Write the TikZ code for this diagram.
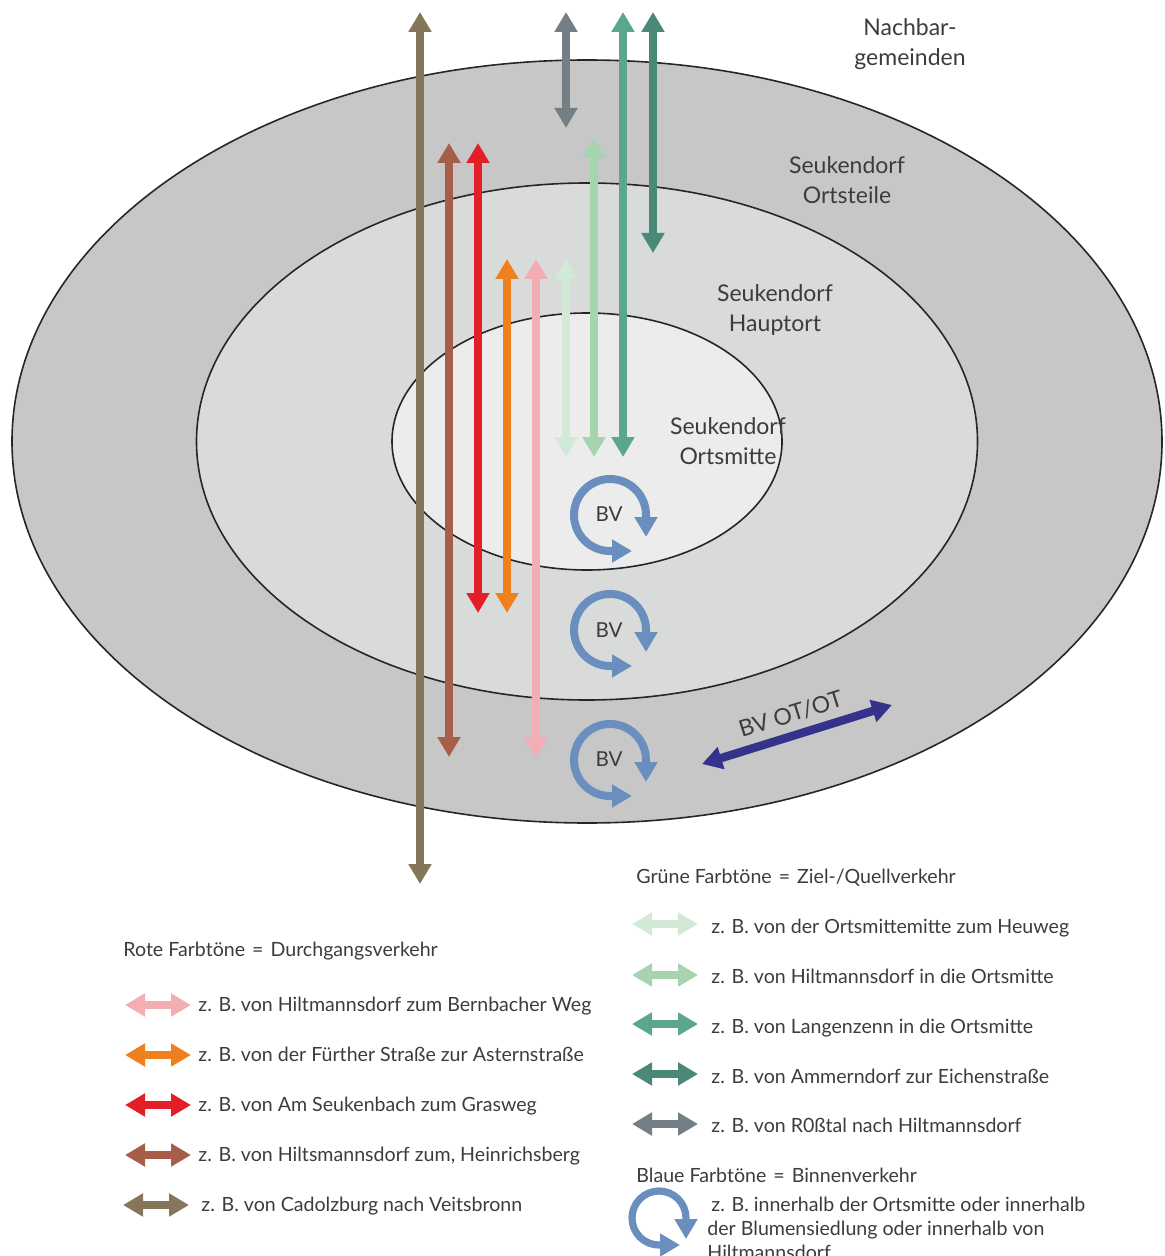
\documentclass[tikz,border=0pt]{standalone}
\usepackage{fontspec}
\setmainfont{Lato}
\usetikzlibrary{arrows.meta}
\definecolor{ringA}{HTML}{C6C7C6}
\definecolor{ringB}{HTML}{D9DADA}
\definecolor{ringC}{HTML}{EBECEB}
\definecolor{txt}{HTML}{3C3C3B}
\definecolor{cOlive}{HTML}{857559}
\definecolor{cBrown}{HTML}{A65E48}
\definecolor{cRed}{HTML}{E31E26}
\definecolor{cOrange}{HTML}{EE801E}
\definecolor{cPink}{HTML}{F3AEB3}
\definecolor{cGreenA}{HTML}{D3E9D8}
\definecolor{cGreenB}{HTML}{A5D4AF}
\definecolor{cGreenC}{HTML}{5BA690}
\definecolor{cGreenD}{HTML}{4A8878}
\definecolor{cGrey}{HTML}{737F85}
\definecolor{cBlue}{HTML}{6A8FBE}
\definecolor{cNavy}{HTML}{35328B}
\newcommand{\wideeq}{\ \hspace{1pt}=\hspace{1pt}\ }
\tikzset{
  vtip/.tip={Triangle[width=11pt,length=10pt]},
  dblarr/.style={line width=4.2pt,vtip-vtip},
  legarr/.style={line width=4pt,vtip-vtip},
  loopline/.style={line width=4pt,draw=cBlue,vtip-vtip},
  ring/.style={draw=black!85,line width=0.8pt},
  lbl/.style={font=\fontsize{11.5}{14}\selectfont,text=txt,inner sep=0pt,anchor=base},
  leg/.style={font=\fontsize{9.8}{12}\selectfont,text=txt,inner sep=0pt,anchor=base west},
  bvlbl/.style={font=\fontsize{10.3}{12}\selectfont,text=txt,inner sep=0pt},
  bvloop/.pic={\draw[loopline] (22,36) -- (0,36) arc[start angle=90,end angle=360,radius=36] -- ++(0,22);},
  bvsmall/.pic={\draw[loopline,line width=3.6pt] (21,27) -- (0,27) arc[start angle=90,end angle=360,radius=27] -- ++(0,21);}
}
\begin{document}
\begin{tikzpicture}[x=0.5pt,y=-0.5pt]
\useasboundingbox (0,0) rectangle (1164,1256);
% rings
\draw[ring,fill=ringA] (587,441.5) ellipse [x radius=575, y radius=381.5];
\draw[ring,fill=ringB] (587,441.5) ellipse [x radius=390.5, y radius=258.5];
\draw[ring,fill=ringC] (587,441.5) ellipse [x radius=195, y radius=128.5];
% ring labels
\node[lbl] (nb1) at (910,36) {Nachbar-};
\node[lbl] (nb2) at (910,66) {gemeinden};
\node[lbl] (ot1) at (847,174) {Seukendorf};
\node[lbl] (ot2) at (847,204) {Ortsteile};
\node[lbl] (ht1) at (775,302) {Seukendorf};
\node[lbl] (ht2) at (775,332) {Hauptort};
\node[lbl] (om1) at (728,434) {Seukendorf};
\node[lbl] (om2) at (728,464) {Ortsmitte};
% vertical arrows
\coordinate (olT) at (420,12);  \coordinate (olB) at (420,884);
\coordinate (brT) at (449,143); \coordinate (brB) at (449,757);
\coordinate (reT) at (478,143); \coordinate (reB) at (478,613);
\coordinate (orT) at (507,259); \coordinate (orB) at (507,613);
\coordinate (piT) at (536,259); \coordinate (piB) at (536,758);
\coordinate (gaT) at (566,259); \coordinate (gaB) at (566,457);
\coordinate (gbT) at (594,138); \coordinate (gbB) at (594,457);
\coordinate (gcT) at (623,12);  \coordinate (gcB) at (623,457);
\coordinate (gdT) at (653,12);  \coordinate (gdB) at (653,253);
\coordinate (grT) at (566,12);  \coordinate (grB) at (566,128);
\draw[dblarr,cOlive] (olT) -- (olB);
\draw[dblarr,cBrown] (brT) -- (brB);
\draw[dblarr,cRed] (reT) -- (reB);
\draw[dblarr,cOrange] (orT) -- (orB);
\draw[dblarr,cPink] (piT) -- (piB);
\draw[dblarr,cGreenA] (gaT) -- (gaB);
\draw[dblarr,cGreenB] (gbT) -- (gbB);
\draw[dblarr,cGreenC] (gcT) -- (gcB);
\draw[dblarr,cGreenD] (gdT) -- (gdB);
\draw[dblarr,cGrey] (grT) -- (grB);
% BV loops
\pic at (610,515) {bvloop};
\pic at (610,630) {bvloop};
\pic at (610,760) {bvloop};
\node[bvlbl] (bv1) at (609,514) {BV};
\node[bvlbl] (bv2) at (609,630) {BV};
\node[bvlbl] (bv3) at (609,759) {BV};
% BV OT/OT
\coordinate (otA) at (702,764); \coordinate (otB) at (892,705);
\draw[dblarr,cNavy] (otA) -- (otB) node[midway,sloped,above=4pt,font=\fontsize{11.5}{14}\selectfont,text=txt,inner sep=0pt] (otl) {BV OT/OT};
% legend: red
\node[leg] (rh) at (123,956) {Rote Farbtöne\wideeq Durchgangsverkehr};
\coordinate (r1a) at (125,1005); \coordinate (r1b) at (191,1005);
\coordinate (r2a) at (125,1055); \coordinate (r2b) at (191,1055);
\coordinate (r3a) at (125,1105); \coordinate (r3b) at (191,1105);
\coordinate (r4a) at (125,1155); \coordinate (r4b) at (191,1155);
\coordinate (r5a) at (123,1205); \coordinate (r5b) at (189,1205);
\draw[legarr,cPink] (r1a) -- (r1b);
\draw[legarr,cOrange] (r2a) -- (r2b);
\draw[legarr,cRed] (r3a) -- (r3b);
\draw[legarr,cBrown] (r4a) -- (r4b);
\draw[legarr,cOlive] (r5a) -- (r5b);
\node[leg] (rt1) at (198,1011) {z. B. von Hiltmannsdorf zum Bernbacher Weg};
\node[leg] (rt2) at (198,1061) {z. B. von der Fürther Straße zur Asternstraße};
\node[leg] (rt3) at (198,1111) {z. B. von Am Seukenbach zum Grasweg};
\node[leg] (rt4) at (198,1161) {z. B. von Hiltsmannsdorf zum, Heinrichsberg};
\node[leg] (rt5) at (201,1211) {z. B. von Cadolzburg nach Veitsbronn};
% legend: green
\node[leg] (gh) at (636,883) {Grüne Farbtöne\wideeq Ziel-/Quellverkehr};
\coordinate (g1a) at (632,924); \coordinate (g1b) at (698,924);
\coordinate (g2a) at (632,975); \coordinate (g2b) at (698,975);
\coordinate (g3a) at (632,1024); \coordinate (g3b) at (698,1024);
\coordinate (g4a) at (632,1074); \coordinate (g4b) at (698,1074);
\coordinate (g5a) at (632,1124); \coordinate (g5b) at (698,1124);
\draw[legarr,cGreenA] (g1a) -- (g1b);
\draw[legarr,cGreenB] (g2a) -- (g2b);
\draw[legarr,cGreenC] (g3a) -- (g3b);
\draw[legarr,cGreenD] (g4a) -- (g4b);
\draw[legarr,cGrey] (g5a) -- (g5b);
\node[leg] (gt1) at (711,933) {z. B. von der Ortsmittemitte zum Heuweg};
\node[leg] (gt2) at (711,983) {z. B. von Hiltmannsdorf in die Ortsmitte};
\node[leg] (gt3) at (711,1033) {z. B. von Langenzenn in die Ortsmitte};
\node[leg] (gt4) at (711,1083) {z. B. von Ammerndorf zur Eichenstraße};
\node[leg] (gt5) at (711,1132) {z. B. von R0ßtal nach Hiltmannsdorf};
% legend: blue
\node[leg] (bh) at (636,1182) {Blaue Farbtöne\wideeq Binnenverkehr};
\pic at (659,1218) {bvsmall};
\node[leg] (bt1) at (711,1211) {z. B. innerhalb der Ortsmitte oder innerhalb};
\node[leg] (bt2) at (707,1235) {der Blumensiedlung oder innerhalb von};
\node[leg] (bt3) at (707,1259) {Hiltmannsdorf};
\end{tikzpicture}
\end{document}
